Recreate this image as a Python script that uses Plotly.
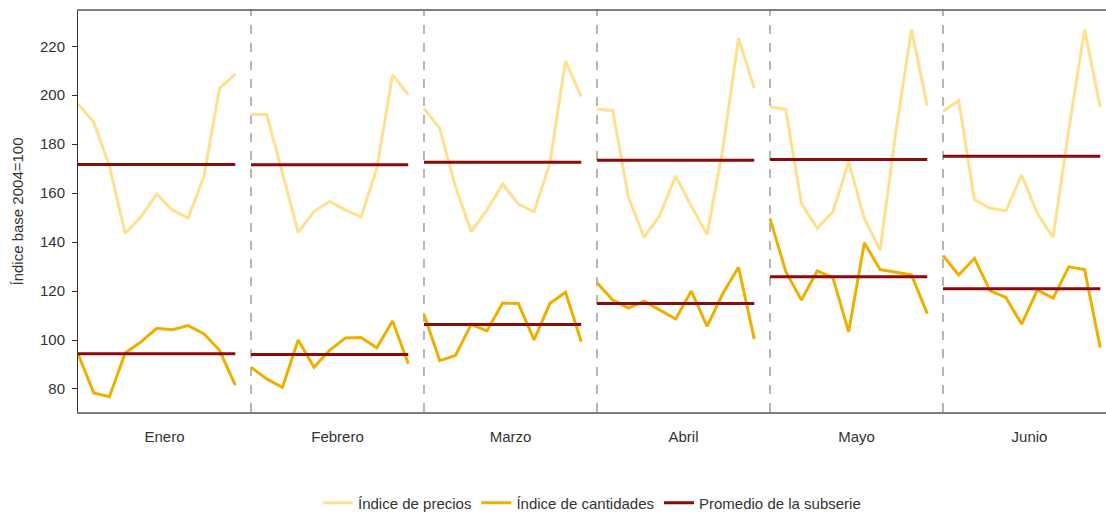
import plotly.graph_objects as go

# Meses (paneles) y 11 observaciones por mes
meses = ['Enero', 'Febrero', 'Marzo', 'Abril', 'Mayo', 'Junio']

precios = [
    [196.4, 189.0, 171.0, 143.5, 150.3, 159.6, 153.1, 149.8, 166.7, 202.8, 208.7],
    [192.1, 192.1, 168.3, 143.9, 152.5, 156.6, 153.1, 150.3, 170.1, 208.3, 200.2],
    [194.6, 186.5, 162.6, 144.2, 153.1, 163.7, 155.5, 152.4, 172.2, 214.0, 199.4],
    [194.4, 193.7, 158.3, 141.9, 151.0, 167.0, 154.7, 143.1, 178.0, 223.3, 202.8],
    [195.3, 194.2, 155.8, 145.6, 152.4, 172.8, 149.7, 136.7, 185.0, 226.9, 195.6],
    [193.5, 197.8, 157.4, 153.8, 152.8, 167.4, 151.7, 141.9, 186.0, 226.9, 195.1],
]

cantidades = [
    [94.4, 78.4, 76.8, 94.7, 99.2, 104.8, 104.2, 105.9, 102.6, 95.8, 81.6],
    [88.9, 84.1, 80.7, 100.0, 88.9, 95.8, 100.8, 101.0, 96.8, 107.8, 90.3],
    [110.4, 91.6, 93.7, 106.4, 103.7, 115.1, 114.9, 100.1, 114.9, 119.5, 99.3],
    [123.4, 116.3, 113.0, 115.9, 112.2, 108.6, 120.0, 105.6, 119.0, 129.7, 100.4],
    [149.7, 128.0, 116.3, 128.2, 125.5, 103.3, 139.7, 128.8, 127.7, 126.6, 110.8],
    [134.5, 126.6, 133.4, 120.1, 117.4, 106.5, 120.4, 117.1, 129.9, 128.8, 96.9],
]

prom_precios = [171.7, 171.6, 172.6, 173.4, 173.7, 175.1]
prom_cantidades = [94.4, 94.1, 106.3, 114.9, 125.8, 120.9]

y_ticks = [80, 100, 120, 140, 160, 180, 200, 220]

n = 11
c_precio = '#FFE08E'
c_cant = '#EEB000'
c_prom = '#8B0A0A'
fuente = 'Liberation Sans Narrow, Arial Narrow, Liberation Sans, Arial, sans-serif'

fig = go.Figure()

for i, mes in enumerate(meses):
    xs = [i * n + k for k in range(n)]
    fig.add_trace(go.Scatter(
        x=xs, y=precios[i], mode='lines',
        line=dict(color=c_precio, width=3),
        name='Índice de precios', legendgroup='p', showlegend=(i == 0)))
    fig.add_trace(go.Scatter(
        x=xs, y=cantidades[i], mode='lines',
        line=dict(color=c_cant, width=3),
        name='Índice de cantidades', legendgroup='c', showlegend=(i == 0)))
    for j, prom in enumerate([prom_precios[i], prom_cantidades[i]]):
        fig.add_trace(go.Scatter(
            x=[xs[0], xs[-1]], y=[prom, prom], mode='lines',
            line=dict(color=c_prom, width=3),
            name='Promedio de la subserie', legendgroup='m',
            showlegend=(i == 0 and j == 0)))

# separadores punteados entre meses
for i in range(1, len(meses)):
    fig.add_shape(type='line', xref='x', yref='paper',
                  x0=i * n, x1=i * n, y0=0, y1=1,
                  line=dict(color='#888888', width=1.2, dash='dash'),
                  layer='below')

fig.update_layout(
    width=1106, height=515,
    margin=dict(l=78, r=0, t=11, b=103),
    paper_bgcolor='white', plot_bgcolor='white',
    font=dict(family=fuente, size=15, color='#333333'),
    xaxis=dict(
        range=[0, (1106 - 78) / 15.727],
        tickvals=[i * n + 5.5 for i in range(len(meses))],
        ticktext=meses,
        ticks='outside', ticklen=10, tickcolor='rgba(0,0,0,0)',
        showgrid=False, zeroline=False,
        showline=True, mirror=True, linecolor='#7f7f7f', linewidth=1.5,
        tickfont=dict(size=15, color='#333333'),
    ),
    yaxis=dict(
        range=[70.6, 234.4],
        tickvals=y_ticks,
        ticks='outside', ticklen=5, tickcolor='#333333',
        ticklabelstandoff=4,
        showgrid=False, zeroline=False,
        showline=True, linecolor='#333333', linewidth=1,
        title=dict(text='Índice base 2004=100', standoff=12,
                   font=dict(size=15, color='#333333')),
        tickfont=dict(size=15, color='#333333'),
    ),
    legend=dict(orientation='h', x=0.5, xanchor='center',
                yref='container', y=(515 - 503) / 515, yanchor='middle',
                font=dict(size=15, color='#333333'), itemwidth=30),
)

# sin margen del body para que la figura ocupe la ventana exacta
fig.write_html('out.html', config={'displayModeBar': False},
               post_script="document.body.style.margin='0';")
